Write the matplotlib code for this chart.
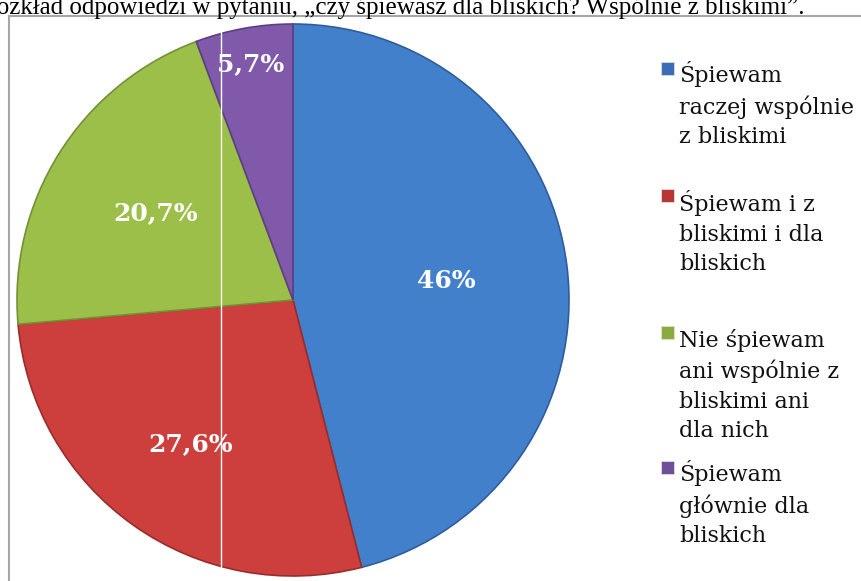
import matplotlib
matplotlib.use('Agg')
import matplotlib.pyplot as plt
from matplotlib.patches import Rectangle
import numpy as np

# Data
categories = [
    'Śpiewam\nraczej wspólnie\nz bliskimi',
    'Śpiewam i z\nbliskimi i dla\nbliskich',
    'Nie śpiewam\nani wspólnie z\nbliskimi ani\ndla nich',
    'Śpiewam\ngłównie dla\nbliskich',
]
shares = [46.0, 27.6, 20.7, 5.7]

# Styles
colors = ['#4380cc', '#cc3f3d', '#9bbf49', '#8059ab']
edges = ['#2f5c9c', '#9a2c2a', '#739136', '#5b4080']
legend_colors = ['#3a6cb8', '#b83634', '#8aac3d', '#6f4f9a']
label_radius = [0.56, 0.64, 0.59, 0.87]
W, H = 862, 581
LINE = 30  # legend line pitch in px

fig = plt.figure(figsize=(W / 100, H / 100), dpi=100)
ax = fig.add_axes([0, 0, 1, 1])

# chart frame (partially visible)
ax.plot([9, 9, W + 5], [-5, H - 16, H - 16], color='#a6a6a6', lw=1.5,
        solid_joinstyle='miter', zorder=1)

cx, cy, R = 293, H - 300, 276
wedges, _ = ax.pie(shares, colors=colors, startangle=90, counterclock=False,
                   center=(cx, cy), radius=R, frame=True,
                   wedgeprops=dict(linewidth=1.2))
for w, ec in zip(wedges, edges):
    w.set_edgecolor(ec)
ax.set_xlim(0, W)
ax.set_ylim(0, H)
ax.set_aspect('equal')
ax.axis('off')

def fmt(v):
    s = ('%.1f' % v).rstrip('0').rstrip('.')
    return s.replace('.', ',') + '%'

for w, v, rr in zip(wedges, shares, label_radius):
    ang = np.deg2rad((w.theta1 + w.theta2) / 2)
    ax.text(cx + rr * R * np.cos(ang), cy + rr * R * np.sin(ang), fmt(v),
            ha='center', va='center', color='white', fontsize=18,
            fontweight='bold', family='DejaVu Serif', zorder=5)

# thin white artefact line through the pie
ax.plot([221, 221], [0, H - 22], color='white', lw=1, zorder=6)

# legend, placed by hand
legend_y = [83, 210, 347, 482]  # baseline of first line, px from top
for lab, c, y in zip(categories, legend_colors, legend_y):
    fig.patches.append(Rectangle((661 / W, 1 - (y - 8) / H), 13 / W, 13 / H,
                                 transform=fig.transFigure, facecolor=c,
                                 edgecolor='#dddddd', lw=0.6))
    last = y + LINE * lab.count('\n')
    fig.text(679 / W, 1 - last / H, lab, ha='left', va='baseline',
             fontsize=16, family='DejaVu Serif', linespacing=1.43,
             color='#111111')

# title cut off at top edge
fig.text(805 / W, 1 - 14 / H,
         'Rozkład odpowiedzi w pytaniu, „czy śpiewasz dla bliskich? Wspólnie z bliskimi”.',
         ha='right', va='baseline', fontsize=18, family='Liberation Serif')

plt.savefig('out.png', dpi=100, facecolor='white')
